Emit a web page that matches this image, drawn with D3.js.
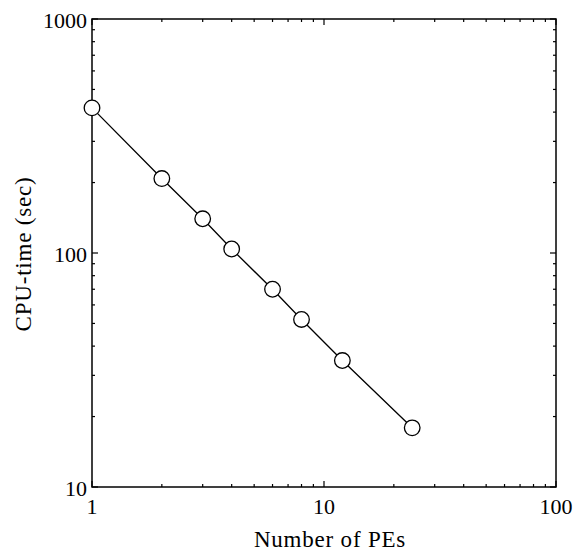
<!DOCTYPE html>
<meta charset="utf-8">
<head>
<style>
body { margin: 0; background: #fff; }
svg text { font-family: "Times New Roman", "Liberation Serif", Times, serif; fill: #000; }
.frame { fill: none; stroke: #000; stroke-width: 1.5px; }
.tick { stroke: #000; stroke-width: 1.2px; }
.pnt { fill: #fff; stroke: #000; stroke-width: 1.3px; }
.ln { fill: none; stroke: #000; stroke-width: 1.3px; }
</style>
<script src="https://d3js.org/d3.v7.min.js"></script>
</head>
<body>
<svg id="plot" width="577" height="556"></svg>
<script>

// data
var pes = [1, 2, 3, 4, 6, 8, 12, 24];
var cpuTime = [417, 208, 140, 104, 70, 52, 34.7, 17.9];

var xTickLabels = [1, 10, 100];
var yTickLabels = [10, 100, 1000];

var xTitle = "Number of PEs";
var yTitle = "CPU-time (sec)";

var svg = d3.select("#plot"),
    margin = {top: 19, right: 21, bottom: 69, left: 92},
    width = +svg.attr("width") - margin.left - margin.right,
    height = +svg.attr("height") - margin.top - margin.bottom;

var x = d3.scaleLog().domain([1, 100]).range([0, width]);
var y = d3.scaleLog().domain([10, 1000]).range([height, 0]);

var g = svg.append("g")
    .attr("transform", "translate(" + margin.left + "," + margin.top + ")");

// minor + major ticks, pointing inward on all four sides
var xt = x.ticks(), yt = y.ticks();
function isMajor(v) { return Math.abs(Math.log10(v) - Math.round(Math.log10(v))) < 1e-9; }

xt.forEach(function(v) {
  var len = isMajor(v) ? 6 : 3;
  g.append("line").attr("class", "tick")
    .attr("x1", x(v)).attr("x2", x(v)).attr("y1", height).attr("y2", height - len);
  g.append("line").attr("class", "tick")
    .attr("x1", x(v)).attr("x2", x(v)).attr("y1", 0).attr("y2", len);
});

yt.forEach(function(v) {
  var len = isMajor(v) ? 6 : 3;
  g.append("line").attr("class", "tick")
    .attr("x1", 0).attr("x2", len).attr("y1", y(v)).attr("y2", y(v));
  g.append("line").attr("class", "tick")
    .attr("x1", width).attr("x2", width - len).attr("y1", y(v)).attr("y2", y(v));
});

g.append("rect").attr("class", "frame")
  .attr("x", 0).attr("y", 0).attr("width", width).attr("height", height);

// tick labels
g.selectAll(".xlab").data(xTickLabels).enter().append("text")
  .attr("class", "xlab")
  .attr("x", function(d) { return x(d); })
  .attr("y", height + 27)
  .attr("text-anchor", "middle")
  .style("font-size", "22px")
  .text(function(d) { return d; });

g.selectAll(".ylab").data(yTickLabels).enter().append("text")
  .attr("class", "ylab")
  .attr("x", -5)
  .attr("y", function(d) { return y(d) + 9; })
  .attr("text-anchor", "end")
  .style("font-size", "22px")
  .text(function(d) { return d; });

// axis titles
svg.append("text")
  .attr("x", margin.left + width / 2 + 6)
  .attr("y", 547)
  .attr("text-anchor", "middle")
  .style("font-size", "23px")
  .style("letter-spacing", "0.8px")
  .text(xTitle);

svg.append("text")
  .attr("transform", "translate(31," + 254 + ") rotate(-90)")
  .attr("text-anchor", "middle")
  .style("font-size", "23px")
  .style("letter-spacing", "0.8px")
  .text(yTitle);

// line + markers
var dat = pes.map(function(p, i) { return {pe: p, t: cpuTime[i]}; });

g.append("path").datum(dat).attr("class", "ln")
  .attr("d", d3.line()
    .x(function(d) { return x(d.pe); })
    .y(function(d) { return y(d.t); }));

g.selectAll(".pnt").data(dat).enter().append("circle")
  .attr("class", "pnt")
  .attr("r", 7.8)
  .attr("cx", function(d) { return x(d.pe); })
  .attr("cy", function(d) { return y(d.t); });

</script>
</body>
